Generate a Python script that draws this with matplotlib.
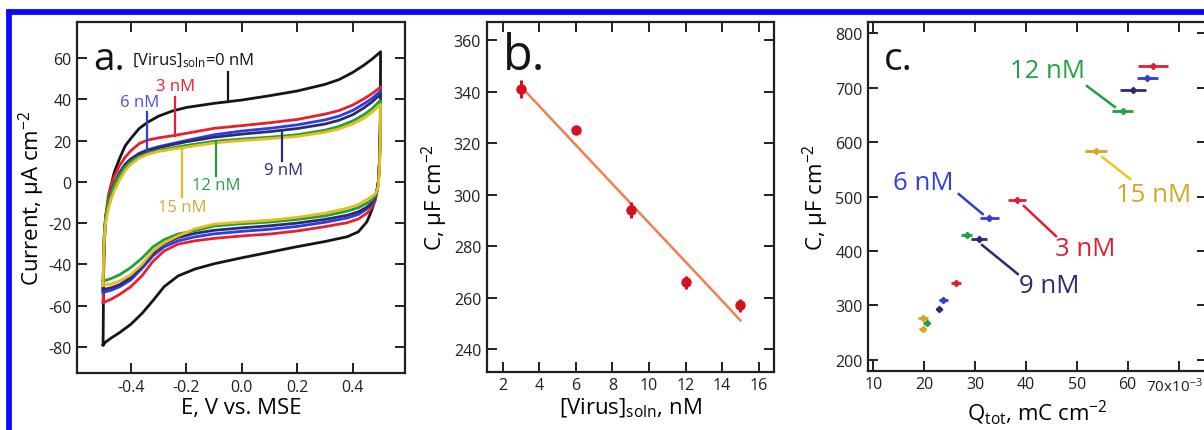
import numpy as np
import matplotlib
matplotlib.use("Agg")
import matplotlib.pyplot as plt
from matplotlib.patches import Rectangle
import matplotlib.transforms as mtransforms

plt.rcParams['font.family'] = ['Open Sans', 'DejaVu Sans']
plt.rcParams['mathtext.fontset'] = 'custom'
plt.rcParams['mathtext.rm'] = 'Open Sans'
plt.rcParams['mathtext.it'] = 'Open Sans'
plt.rcParams['mathtext.default'] = 'rm'

# ---------------- Panel a: cyclic voltammograms ----------------
E_up = [-0.5, -0.498, -0.495, -0.49, -0.48, -0.47, -0.46, -0.44, -0.42, -0.40, -0.37, -0.34,
        -0.30, -0.25, -0.20, -0.10, 0.0, 0.10, 0.20, 0.30, 0.35, 0.40, 0.44, 0.47, 0.49, 0.5]
E_dn = [0.5, 0.499, 0.496, 0.492, 0.487, 0.48, 0.47, 0.46, 0.45, 0.42, 0.38, 0.30, 0.20, 0.10,
        0.0, -0.10, -0.17, -0.23, -0.28, -0.32, -0.36, -0.40, -0.44, -0.47, -0.49, -0.5]

I0_up = [-79, -45, -28, -18, -7.5, -1, 4.5, 11.5, 17.5, 21, 25.8, 28.8, 31.8, 34.3, 36, 38, 39.6,
         41.7, 44, 47.2, 49.5, 53, 56.5, 59.5, 61.8, 63]
I0_dn = [63, 30, 10, 0, -4, -9, -13, -16.5, -19.5, -24.2, -26.6, -28.9, -31.4, -34.1, -36.8, -39.7,
         -42.3, -45.6, -50.8, -57.5, -63.8, -69, -73, -75.6, -77.5, -79]
I3_up = [-58.5, -38, -25, -16, -6, -1, 2.5, 8, 12, 15, 18.5, 20.2, 21.3, 22.3, 23.5, 25.9, 27.2,
         28.6, 30.2, 32.8, 34.5, 37.2, 40.2, 42.8, 44.8, 46]
I3_dn = [46, 25, 10, 0, -5, -9, -12, -14, -15.3, -18, -19.8, -21.7, -23.8, -25.3, -26.2, -27.4,
         -28.6, -30.2, -33.5, -38.5, -45.5, -50.8, -54.5, -56.8, -58, -58.5]
I6_up = [-53.5, -36, -25, -17, -10, -5, -1.5, 4.5, 8.5, 11, 13.8, 15.5, 17, 18.5, 20, 22.8, 24.6,
         25.9, 27.6, 30, 31.8, 34.6, 37.8, 40.5, 42.8, 44]
I6_dn = [44, 25, 10, 0, -4.5, -8, -10.5, -12, -13.2, -15.8, -17.5, -19.6, -21.6, -23, -24, -25.2,
         -26.7, -28.6, -31.5, -35.8, -42, -47.5, -50.8, -52.5, -53.2, -53.5]
I9_up = [-52, -35, -24, -16.5, -9.5, -4.5, -1, 4.5, 8.5, 11, 13.5, 15, 16.5, 18, 19.4, 21.6, 23.1,
         24.3, 25.8, 28, 29.8, 32.5, 35.8, 38.8, 41.2, 42.5]
I9_dn = [42.5, 24, 9, 0, -4, -7.5, -9.8, -11.2, -12.3, -14.5, -16.2, -18.2, -20, -21.3, -22.3, -23.5,
         -25, -27, -30, -34.5, -40.5, -46.3, -49.8, -51.3, -51.9, -52]
I12_up = [-48, -33, -23, -16, -9.5, -5, -1.5, 3.5, 7.3, 9.8, 12.3, 13.8, 15.2, 16.4, 17.6, 19.6, 20.7,
          21.6, 22.8, 25, 26.8, 29.5, 32.5, 35.5, 38.2, 39.5]
I12_dn = [39.5, 22, 8, -1, -4.5, -7, -8.6, -9.6, -10.4, -12.5, -14.2, -16.5, -18.2, -19.5, -20.3, -21.4,
          -23.7, -25.3, -28, -31.5, -37, -41.5, -45, -46.8, -47.7, -48]
I15_up = [-50, -36, -26, -19, -12.5, -8, -4.5, 1, 5.5, 8.5, 11.5, 13.2, 14.7, 15.8, 16.8, 18.8, 20,
          20.9, 22, 24, 25.6, 28, 30.8, 33.8, 36.2, 37.5]
I15_dn = [37.5, 20, 6, -2, -4.5, -6, -7, -7.8, -8.6, -11, -12.8, -15.2, -17.2, -18.6, -19.5, -20.5,
          -22.8, -26.2, -29.5, -33.5, -40, -45, -48, -49.5, -49.8, -50]

cv_labels = ['0 nM', '3 nM', '6 nM', '9 nM', '12 nM', '15 nM']
cv_colors = ['#151515', '#e8202e', '#2a3de6', '#2e2a6e', '#1f9e3e', '#e6bd1c']
cv_text_colors = ['#151515', '#e8202e', '#5050d8', '#2e2a6e', '#2a9a48', '#d4aa30']
cv_up = [I0_up, I3_up, I6_up, I9_up, I12_up, I15_up]
cv_dn = [I0_dn, I3_dn, I6_dn, I9_dn, I12_dn, I15_dn]
# leader lines: E position, top and bottom current
lead_E = [-0.050, -0.240, -0.342, 0.144, -0.093, -0.216]
lead_top = [53, 41, 33.7, 24, 20, 15.4]
lead_bot = [38.5, 22.4, 15.1, 10.3, 3, -7.5]
lab_E = [-0.396, -0.24, -0.367, 0.15, -0.093, -0.213]
lab_I = [59, 46.3, 38.5, 5.9, -1.5, -12.3]

# ---------------- Panel b ----------------
virus_conc = [3, 6, 9, 12, 15]
cap_b = [341, 325, 294, 266, 257]
cap_b_err = [3.5, 1.2, 3.0, 2.5, 2.5]

# ---------------- Panel c ----------------
c_series = ['3 nM', '6 nM', '9 nM', '12 nM', '15 nM']
c_colors = ['#e02030', '#2f3fd8', '#2c2a72', '#22a042', '#d8a424']
q_tot = [[26.3, 38.3, 65.0], [23.8, 32.8, 63.9], [23.0, 30.8, 61.1], [20.5, 28.4, 59.0], [19.7, 19.7, 53.8]]
cap_c = [[341, 494, 740], [310, 460, 717], [293, 422, 696], [267, 430, 658], [256, 276, 583]]
q_err = [[1.0, 1.8, 3.0], [0.8, 1.9, 2.1], [0.6, 1.5, 2.6], [0.7, 1.1, 2.1], [0.7, 1.0, 2.1]]
c_lab_xy = [(51.75, 404.7), (19.8, 526), (44.5, 337.2), (44.3, 732.5), (65.05, 504.5)]
c_lead = [((39.6, 482.5), (45.9, 427.3)), ((26.8, 504.5), (31.5, 467.8)),
          ((31.4, 410.8), (38.4, 357.5)), ((52.0, 703.1), (57.5, 664.5)),
          ((55.0, 572.7), (60.5, 532.1))]
c_xticklabels = ['10', '20', '30', '40', '50', '60', r'70x10$^{-3}$']

W, H = 1204, 431
fig = plt.figure(figsize=(W / 100, H / 100), dpi=100)


def ax_at(l, r, t, b):
    return fig.add_axes([l / W, 1 - b / H, (r - l) / W, (b - t) / H])


def style(ax):
    for s in ax.spines.values():
        s.set_linewidth(1.6)
        s.set_color('#202020')
    ax.tick_params(direction='in', top=True, right=True, length=7, width=1.4,
                   labelsize=11.5, pad=4, colors='#202020')


# ---- a
axa = ax_at(77, 405, 23, 374)
style(axa)
for k in range(6):
    E = E_up + E_dn[1:]
    I = cv_up[k] + cv_dn[k][1:]
    axa.plot(E, I, color=cv_colors[k], lw=2.0, solid_joinstyle='round', zorder=3 + (0 if k == 0 else 1))
for k in range(6):
    axa.plot([lead_E[k], lead_E[k]], [lead_bot[k], lead_top[k]], color=cv_colors[k] if k != 2 else '#3040d0',
             lw=1.6, zorder=5)
axa.text(lab_E[0], lab_I[0], r'[Virus]$_{\mathrm{soln}}$=0 nM', fontsize=12, color=cv_text_colors[0],
         ha='left', va='center')
for k in range(1, 6):
    axa.text(lab_E[k], lab_I[k], cv_labels[k], fontsize=12, color=cv_text_colors[k], ha='center', va='center')
axa.set_xlim(-0.594, 0.588)
axa.set_ylim(-92.6, 77.4)
axa.set_xticks([-0.4, -0.2, 0.0, 0.2, 0.4])
axa.set_xticklabels(['-0.4', '-0.2', '0.0', '0.2', '0.4'])
axa.set_yticks(np.arange(-80, 61, 20))
axa.set_yticklabels([str(v) for v in np.arange(-80, 61, 20)])
axa.set_xlabel('E, V vs. MSE', fontsize=16, labelpad=2)
axa.set_ylabel(r'Current, μA cm$^{-2}$', fontsize=16, labelpad=1)
axa.text(93 / W, 1 - 70 / H, 'a.', transform=fig.transFigure, fontsize=28, ha='left', va='baseline',
         color='#151515')

# ---- b
axb = ax_at(486.7, 774, 23, 372.7)
style(axb)
fit = np.polyfit(virus_conc, cap_b, 1)
xs = np.array([virus_conc[0], virus_conc[-1]])
axb.plot(xs, np.polyval(fit, xs), color='#f08050', lw=1.8, zorder=2)
axb.errorbar(virus_conc, cap_b, yerr=cap_b_err, fmt='o', color='#d41020', ms=6.5, elinewidth=2.2,
             capsize=0, zorder=3)
axb.set_xlim(1.125, 16.84)
axb.set_ylim(231.2, 367.1)
axb.set_xticks(range(2, 17, 2))
axb.set_yticks(range(240, 361, 20))
axb.set_xlabel(r'[Virus]$_{\mathrm{soln}}$, nM', fontsize=16, labelpad=2)
axb.set_ylabel(r'C, μF cm$^{-2}$', fontsize=16, labelpad=3)
axb.text(503 / W, 1 - 70 / H, 'b.', transform=fig.transFigure, fontsize=35, ha='left', va='baseline',
         color='#151515')

# ---- c
axc = ax_at(868.3, 1207, 23, 371.7)
style(axc)
for k in range(5):
    axc.errorbar(q_tot[k], cap_c[k], xerr=q_err[k], fmt='D', color=c_colors[k], ms=3.2,
                 elinewidth=2.0, capsize=0, zorder=3)
    (x0, y0), (x1, y1) = c_lead[k]
    axc.plot([x0, x1], [y0, y1], color=c_colors[k] if k != 4 else '#e8c828', lw=1.8, zorder=2)
    axc.text(c_lab_xy[k][0], c_lab_xy[k][1], c_series[k], color=c_colors[k], fontsize=18.5,
             ha='center', va='center')
axc.set_xlim(9.02, 75.6)
axc.set_ylim(179.8, 820.8)
axc.set_xticks(range(10, 71, 10))
axc.set_xticklabels(c_xticklabels)
last = axc.get_xticklabels()[-1]
last.set_fontsize(11)
last.set_transform(last.get_transform() + mtransforms.ScaledTranslation(-4 / 100, 0, fig.dpi_scale_trans))
axc.set_yticks(range(200, 801, 100))
axc.set_xlabel(r'Q$_{\mathrm{tot}}$, mC cm$^{-2}$', fontsize=16, labelpad=2)
axc.set_ylabel(r'C, μF cm$^{-2}$', fontsize=16, labelpad=3)
axc.text(884 / W, 1 - 70 / H, 'c.', transform=fig.transFigure, fontsize=28, ha='left', va='baseline',
         color='#151515')

# blue frame
fig.patches.append(Rectangle((9 / W, -0.2), 1.2, 1 - 12.5 / H + 0.2, transform=fig.transFigure,
                             fill=False, edgecolor='#0a0aff', lw=4.2, zorder=10))

fig.savefig('out.png', dpi=100)
